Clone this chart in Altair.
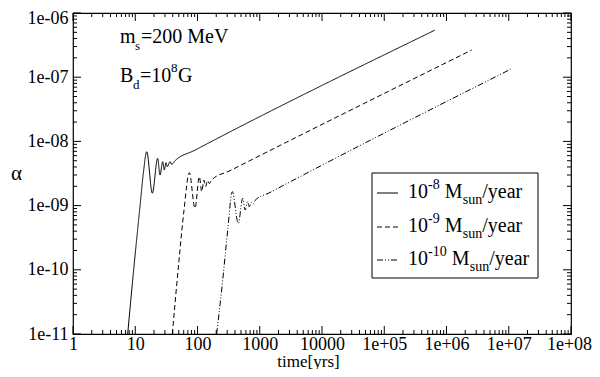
import altair as alt
import pandas as pd

# ---- data ----
series_names = ["1e-8", "1e-9", "1e-10"]

t_8 = [7.56, 9.31, 11.9, 13.5, 15.3, 18.8, 22.9, 25.0, 27.6, 29.3, 31.2, 32.7, 36.2, 38.5, 43.6, 91, 6.5e5]
a_8 = [1.0e-11, 8.8e-11, 9.6e-10, 3.2e-9, 6.9e-9, 1.56e-9, 5.45e-9, 3.0e-9, 4.83e-9, 3.59e-9, 4.66e-9, 4.04e-9,
       4.83e-9, 4.4e-9, 5.0e-9, 7.3e-9, 5.4e-7]

t_9 = [39.4, 50.5, 60.7, 73.8, 91.2, 107, 117, 127, 135, 145, 155, 168, 333, 2.54e6]
a_9 = [1.0e-11, 1.42e-10, 8.5e-10, 3.25e-9, 9.1e-10, 2.82e-9, 1.65e-9, 2.5e-9, 1.97e-9, 2.45e-9, 2.2e-9,
       2.5e-9, 3.5e-9, 2.65e-7]

t_10 = [203, 254, 306, 362, 452, 532, 580, 640, 679, 730, 788, 837, 1462, 1.07e7]
a_10 = [1.0e-11, 6.9e-11, 4.2e-10, 1.65e-9, 5.3e-10, 1.3e-9, 8.5e-10, 1.15e-9, 9.6e-10, 1.12e-9, 1.05e-9,
        1.2e-9, 1.6e-9, 1.33e-7]

x_major = [1, 10, 100, 1000, 1e4, 1e5, 1e6, 1e7, 1e8]
y_major = [1e-11, 1e-10, 1e-9, 1e-8, 1e-7, 1e-6]
minor_mult = [2, 3, 4, 5, 6, 7, 8, 9]
x_minor = [m * d for d in x_major[:-1] for m in minor_mult]
y_minor = [m * d for d in y_major[:-1] for m in minor_mult]

# ---- build table ----
rows = []
for name, ts, as_ in zip(series_names, [t_8, t_9, t_10], [a_8, a_9, a_10]):
    for t, a in zip(ts, as_):
        rows.append({"series": name, "t": t, "a": a})
df = pd.DataFrame(rows)

W, H = 498, 321
FONT = "Liberation Serif"
xscale = alt.Scale(type="log", domain=[1, 1e8], nice=False)
yscale = alt.Scale(type="log", domain=[1e-11, 1e-6], nice=False)
dash_scale = alt.Scale(domain=series_names, range=[[1, 0], [5, 3], [6, 2, 1, 2, 1, 2]])

x_axis = alt.Axis(values=x_major, ticks=False, domain=False, grid=False,
                  labelExpr="datum.value < 1e5 ? format(datum.value, 'd') : '1e+0' + round(log(datum.value)/LN10)",
                  labelFont=FONT, labelFontSize=18, labelColor="black", labelPadding=1,
                  labelOffset={"condition": {"test": "datum.value >= 1e8", "value": -2}, "value": 0},
                  title="time[yrs]", titleFont=FONT, titleFontSize=17, titleFontWeight="normal",
                  titleColor="black", titleX=235, titleY=32, titleAlign="center", titleBaseline="alphabetic",
                  labelFlush=False)
y_axis = alt.Axis(values=y_major, ticks=False, domain=False, grid=False,
                  labelExpr="'1e-' + (round(-log(datum.value)/LN10) < 10 ? '0' : '') + round(-log(datum.value)/LN10)",
                  labelFont=FONT, labelFontSize=18, labelColor="black", labelPadding=5,
                  labelOffset={"condition": {"test": "datum.value >= 1e-6", "value": 5}, "value": 0},
                  title="α", titleFont=FONT, titleFontSize=21, titleFontWeight="normal", titleColor="black",
                  titleAngle=0, titleX=-57, titleY=160, titleAlign="center", titleBaseline="middle",
                  labelFlush=False)

lines = alt.Chart(df).mark_line(color="black", strokeWidth=1, clip=True, interpolate="monotone").encode(
    x=alt.X("t:Q", scale=xscale, axis=x_axis),
    y=alt.Y("a:Q", scale=yscale, axis=y_axis),
    strokeDash=alt.StrokeDash("series:N", scale=dash_scale, legend=None),
    detail="series:N",
)

xmaj = pd.DataFrame({"t": x_major})
xmin = pd.DataFrame({"t": x_minor})
ymaj = pd.DataFrame({"a": y_major})
ymin = pd.DataFrame({"a": y_minor})

def xticks(d, L):
    base = alt.Chart(d).mark_rule(color="black", strokeWidth=1)
    bot = base.encode(x=alt.X("t:Q", scale=xscale, axis=x_axis), y=alt.value(H), y2=alt.value(H - L))
    top = base.encode(x=alt.X("t:Q", scale=xscale, axis=x_axis), y=alt.value(0), y2=alt.value(L))
    return [bot, top]

def yticks(d, L):
    base = alt.Chart(d).mark_rule(color="black", strokeWidth=1)
    left = base.encode(y=alt.Y("a:Q", scale=yscale, axis=y_axis), x=alt.value(0), x2=alt.value(L))
    right = base.encode(y=alt.Y("a:Q", scale=yscale, axis=y_axis), x=alt.value(W), x2=alt.value(W - L))
    return [left, right]

tick_layers = xticks(xmaj, 8) + xticks(xmin, 4) + yticks(ymaj, 8) + yticks(ymin, 4)

one = pd.DataFrame({"k": [0]})
OX, OY = 73, 13  # plot origin on page

def txt(s, px, py, size):
    return alt.Chart(one).mark_text(align="left", baseline="alphabetic", font=FONT, fontSize=size,
                                    color="black").encode(
        text=alt.value(s), x=alt.value(px - OX), y=alt.value(py - OY))

texts = [
    txt("m", 120, 43, 20), txt("s", 135, 50, 13), txt("=200 MeV", 141, 43, 20),
    txt("B", 120, 82, 20), txt("d", 133, 89, 13), txt("=10", 140, 82, 20), txt("8", 171, 72, 13),
    txt("G", 178, 82, 20),
]

# legend
box = alt.Chart(one).mark_rect(fill="white", stroke="black", strokeWidth=1).encode(
    x=alt.value(372 - OX), x2=alt.value(538 - OX), y=alt.value(173 - OY), y2=alt.value(278 - OY))

leg_exps = ["-8", "-9", "-10"]
row_base = [198, 232, 265]
leg_rows = []
for name, e, b in zip(series_names, leg_exps, row_base):
    samp = alt.Chart(pd.DataFrame({"series": [name]})).mark_rule(color="black", strokeWidth=1).encode(
        x=alt.value(377 - OX), x2=alt.value(398 - OX), y=alt.value(b - 5 - OY),
        strokeDash=alt.StrokeDash("series:N", scale=dash_scale, legend=None))
    leg_rows.append(samp)
    ew = 11.7 if len(e) == 2 else 18.7
    mx = 428 + ew + 5
    leg_rows.append(txt("10", 408, b, 20))
    leg_rows.append(txt(e, 428, b - 9, 14))
    leg_rows.append(txt("M", mx, b, 20))
    leg_rows.append(txt("sun", mx + 18, b + 6, 14))
    leg_rows.append(txt("/year", mx + 37.5, b, 20))

chart = alt.layer(lines, *tick_layers, *texts, box, *leg_rows).properties(
    width=W, height=H,
    autosize=alt.AutoSizeParams(type="none"),
    padding={"left": 65, "top": 5, "right": 21, "bottom": 35},
).configure_view(stroke="black", strokeWidth=1.2)

chart.save("out.html", embed_options={"renderer": "svg", "actions": False})
